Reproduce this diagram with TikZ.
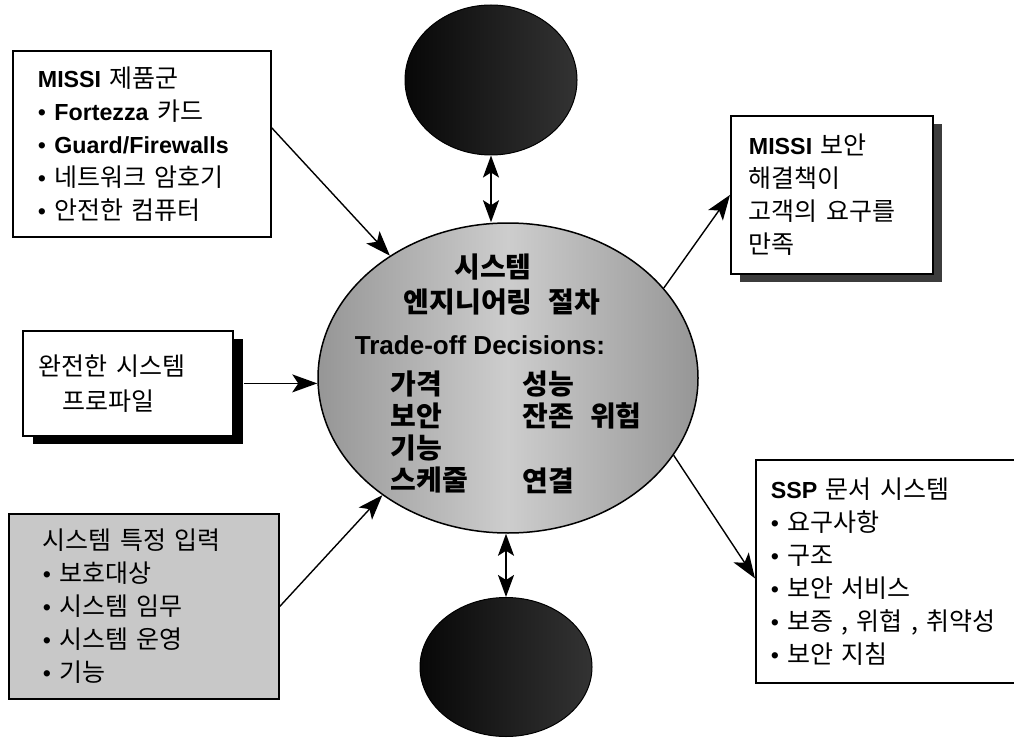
\documentclass[tikz,border=0pt]{standalone}
\usepackage{fontspec}
\setmainfont{Noto Sans CJK KR}[WordSpace=2.5]
\newfontfamily\arialfont{Liberation Sans}[Scale=0.93]
\usetikzlibrary{arrows.meta,positioning,shapes.geometric,shadows}
\definecolor{procgray}{RGB}{150,150,150}
\definecolor{proclight}{RGB}{205,205,205}
\definecolor{inputgray}{RGB}{200,200,200}
\definecolor{shadowgray}{RGB}{60,60,60}
\newcommand{\en}[1]{{\arialfont\bfseries #1}}
\newcommand{\bul}{{\arialfont\textbullet}\ }

\begin{document}
\begin{tikzpicture}[x=1pt,y=-1pt,
  box/.style={draw,line width=1.8pt,fill=white,align=left,anchor=north west,
    font=\fontsize{25}{33}\selectfont},
  link/.style={line width=1.4pt,-{Stealth[length=25pt,width=18pt,inset=6pt]}},
  both/.style={line width=2pt,{Stealth[length=22pt,width=16pt,inset=5pt]}-{Stealth[length=22pt,width=16pt,inset=5pt]}},
  ball/.style={ellipse,draw,line width=1pt,inner sep=0pt,left color=black!97,right color=black!80},
  proctext/.style={font=\fontsize{28}{32.3}\bfseries\selectfont}]
\useasboundingbox (0,0) rectangle (1014,746);
\clip (0,0) rectangle (1014,746);

% centre and the two outer balls
\node[ellipse,draw,line width=1.5pt,minimum width=380pt,minimum height=310pt,inner sep=0pt,
  left color=procgray,right color=procgray,middle color=proclight] (proc) at (508,378) {};
\node[ball,minimum width=172pt,minimum height=150pt] (top) at (491,80) {};
\node[ball,minimum width=172pt,minimum height=139pt] (bot) at (506,667) {};

\node[proctext] (sys) at (493,267) {시스템};
\node[proctext] (eng) at (502,302) {엔지니어링 절차};
\node[proctext] (trade) at (480,345) {\en{Trade-off Decisions:}};
\node[proctext,align=left,anchor=west] (colL) at (387,432) {가격\\보안\\기능\\스케줄};
\node[proctext,align=left,anchor=west] (colR) at (519,432) {성능\\잔존 위험\\\mbox{}\\연결};

% boxes
\node[box,text width=208pt,inner xsep=25pt,minimum height=186pt] (missi) at (12,50)
  {\en{MISSI} 제품군\\ \bul\en{Fortezza} 카드\\ \bul\en{Guard/Firewalls}\\ \bul 네트워크 암호기\\ \bul 안전한 컴퓨터};
\node[box,text width=166pt,inner xsep=18pt,minimum height=158pt,
  drop shadow={shadow xshift=9pt,shadow yshift=-8pt,fill=shadowgray,opacity=1}] (solution) at (730,115)
  {\en{MISSI} 보안\\ 해결책이\\ 고객의 요구를\\ 만족};
\node[box,text width=178pt,inner xsep=16pt,minimum height=105pt,font=\fontsize{25}{35}\selectfont,
  drop shadow={shadow xshift=10pt,shadow yshift=-8pt,fill=black,opacity=1}] (profile) at (22,330)
  {완전한 시스템\\ \hspace*{24pt}프로파일};
\node[box,fill=inputgray,text width=202pt,inner xsep=34pt,minimum height=185pt] (sysin) at (8,513)
  {시스템 특정 입력\\ \bul 보호대상\\ \bul 시스템 임무\\ \bul 시스템 운영\\ \bul 기능};
\node[box,text width=240pt,inner xsep=15pt,minimum height=223pt] (ssp) at (755,459)
  {\en{SSP} 문서 시스템\\ \bul 요구사항\\ \bul 구조\\ \bul 보안 서비스\\ \bul 보증 , 위협 , 취약성\\ \bul 보안 지침};

% connectors
\draw[link] ([yshift=16pt]missi.east) -- (proc.134);
\draw[link] (proc.30) -- (solution.west);
\draw[link] ([xshift=10pt]profile.east) -- (profile.east -| proc.west);
\draw[link] (sysin.east) -- (proc.223);
\draw[link] (proc.-25) -- ([yshift=-7pt]ssp.west);
\draw[both] (top.south) -- (top.south |- proc.north);
\draw[both] (proc.south -| bot.north) -- (bot.north);
\end{tikzpicture}
\end{document}
